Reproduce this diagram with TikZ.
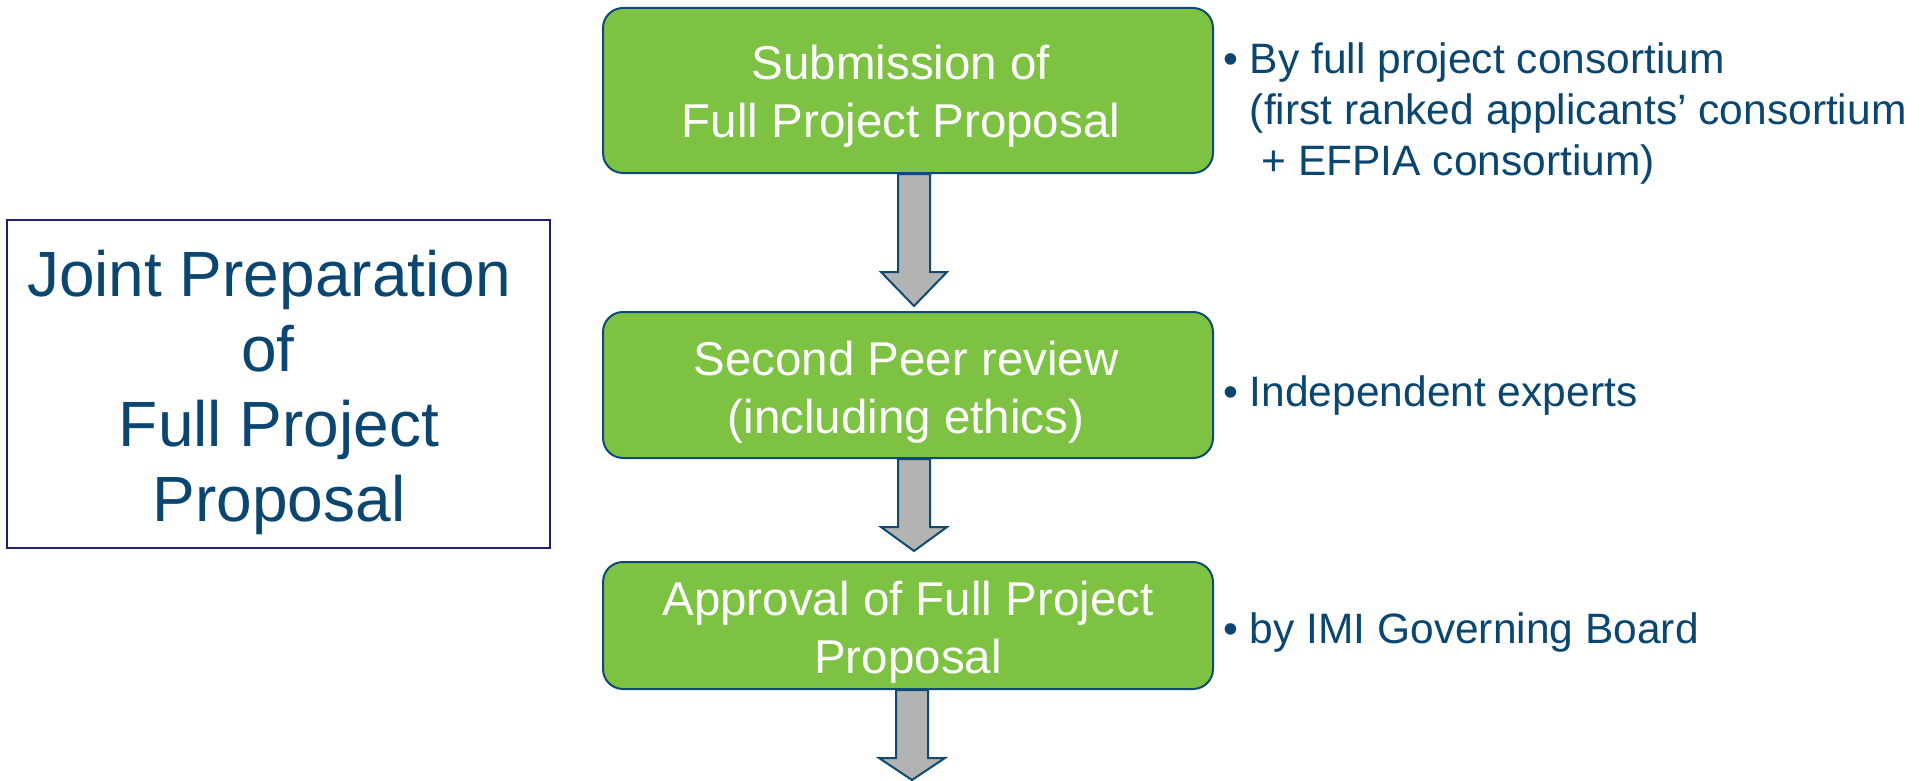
\documentclass[tikz,border=0pt]{standalone}
\usepackage{fontspec}
\setmainfont{Liberation Sans}
\usetikzlibrary{calc}
\definecolor{boxgreen}{HTML}{7DC243}
\definecolor{edgeblue}{HTML}{0E4A72}
\definecolor{textblue}{HTML}{0A4670}
\definecolor{navyline}{HTML}{1C2270}
\definecolor{arrowgray}{HTML}{B3B3B3}
\newcommand\blockarrow[3]{%
  \draw[arrowbody] let \p1=(#1), \p2=(#2) in
    ({\x2-16pt},\y1) -- ({\x2-16pt},{\y2+#3}) -- ({\x2-33pt},{\y2+#3}) --
    (\x2,\y2) -- ({\x2+33pt},{\y2+#3}) -- ({\x2+16pt},{\y2+#3}) --
    ({\x2+16pt},\y1) -- cycle;}
\begin{document}
\begin{tikzpicture}[x=1pt,y=-1pt,
  greenbox/.style={draw=edgeblue, fill=boxgreen, line width=2pt,
    rounded corners=20pt, minimum width=610pt, inner sep=0pt},
  boxtext/.style={text=white, inner sep=0pt,
    font=\fontsize{47.5}{58}\selectfont},
  sidetext/.style={text=textblue, inner sep=0pt, anchor=base west,
    font=\fontsize{42.5}{51}\selectfont},
  jointbox/.style={draw=navyline, line width=2pt, minimum width=543pt,
    minimum height=328pt, inner sep=0pt},
  jointtext/.style={text=textblue, inner sep=0pt, anchor=base,
    font=\fontsize{64}{75}\selectfont},
  arrowbody/.style={draw=edgeblue, fill=arrowgray, line width=2pt, line join=miter}]
\useasboundingbox (0,0) rectangle (1925,781);

% left box
\node[jointbox] (jb) at (278.5,384) {};
\node[jointtext] (jt) at (279,296) {\begin{tabular}[t]{@{}c@{}}Joint Preparation\hspace*{20pt}\\of\hspace*{22pt}\\Full Project\\Proposal\end{tabular}};

% green boxes
\node[greenbox, minimum height=165pt] (b1) at (908,90.5) {};
\node[greenbox, minimum height=146pt] (b2) at (908,385) {};
\node[greenbox, minimum height=127pt] (b3) at (908,625.5) {};

\node[boxtext, anchor=base] (t1) at (901,80) {\begin{tabular}[t]{@{}c@{}}Submission of\\Full Project Proposal\end{tabular}};
\node[boxtext, anchor=base] (t2) at (906,375) {\begin{tabular}[t]{@{}c@{}}Second Peer review\\(including ethics)\end{tabular}};
\node[boxtext, anchor=base] (t3) at (908,615) {\begin{tabular}[t]{@{}c@{}}Approval of Full Project\\Proposal\end{tabular}};

% arrows
\coordinate (tip1) at ([xshift=6pt,yshift=5pt]b2.north);
\coordinate (tip2) at ([xshift=6pt,yshift=10pt]b3.north);
\coordinate (tip3) at (912,780);
\blockarrow{b1.south}{tip1}{34pt}
\blockarrow{b2.south}{tip2}{24pt}
\blockarrow{b3.south}{tip3}{22pt}

% side notes
\node[sidetext] (s1) at (1223,74) {\begin{tabular}[t]{@{}l@{}}• By full project consortium\\\hphantom{• }(first ranked applicants’ consortium\\\hphantom{• }\ + EFPIA consortium)\end{tabular}};
\node[sidetext] (s2) at (1223,406) {• Independent experts};
\node[sidetext] (s3) at (1223,643) {• by IMI Governing Board};
\end{tikzpicture}
\end{document}
